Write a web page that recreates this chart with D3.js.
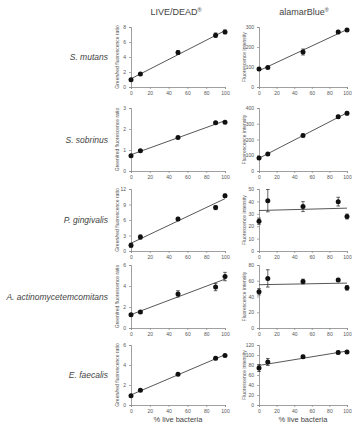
<!DOCTYPE html>
<html><head><meta charset="utf-8">
<script src="https://cdn.jsdelivr.net/npm/d3@7"></script>
<style>
html,body{margin:0;padding:0;background:#fff;}
svg{display:block;font-family:"Liberation Sans",Arial,sans-serif;}
</style></head>
<body>
<svg id="chart" width="352" height="426"></svg>
<script>
// ---- data ----
const xPercent = [0, 10, 50, 90, 100];
const xTicks = [0, 20, 40, 60, 80, 100];
const columnTitles = ["LIVE/DEAD", "alamarBlue"];
const species = ["S. mutans", "S. sobrinus", "P. gingivalis", "A. actinomycetemcomitans", "E. faecalis"];
const yTitles = ["Green/red fluorescence ratio", "Fluorescence intensity"];
const xTitle = "% live bacteria";

// LIVE/DEAD green/red ratio
const ldMutans = [0.97, 1.73, 4.6, 6.9, 7.35];
const ldMutansErr = [0.1, 0.12, 0.25, 0.3, 0.25];
const ldSobrinus = [0.73, 0.97, 1.6, 2.3, 2.32];
const ldSobrinusErr = [0.05, 0.05, 0.05, 0.06, 0.05];
const ldGingivalis = [1.1, 2.7, 6.2, 8.4, 10.7];
const ldGingivalisErr = [0.4, 0.4, 0.3, 0.4, 0.3];
const ldActino = [1.26, 1.52, 3.25, 3.9, 4.9];
const ldActinoErr = [0.1, 0.1, 0.3, 0.35, 0.4];
const ldFaecalis = [0.93, 1.47, 3.07, 4.67, 4.95];
const ldFaecalisErr = [0.1, 0.1, 0.1, 0.15, 0.1];

// alamarBlue fluorescence intensity
const abMutans = [90, 97, 175, 275, 285];
const abMutansErr = [5, 5, 15, 8, 6];
const abSobrinus = [82, 108, 226, 344, 366];
const abSobrinusErr = [8, 8, 8, 10, 10];
const abGingivalis = [24, 40.6, 35.8, 39.8, 27.8];
const abGingivalisErr = [2.5, 9, 4, 3.5, 2];
const abActino = [46, 63, 59, 61, 51];
const abActinoErr = [4, 11, 3, 2, 3];
const abFaecalis = [74, 86, 96.5, 105, 106];
const abFaecalisErr = [7, 7, 3, 3, 3];

const ldTicks = [[0,2,4,6,8],[0,1,2,3],[0,3,6,9,12],[0,2,4,6],[0,2,4,6]];
const abTicks = [[0,100,200,300],[0,100,200,300,400],[0,10,20,30,40,50],[0,20,40,60,80],[0,20,40,60,80,100,120]];

const ldSeries = [ldMutans, ldSobrinus, ldGingivalis, ldActino, ldFaecalis];
const ldErrors = [ldMutansErr, ldSobrinusErr, ldGingivalisErr, ldActinoErr, ldFaecalisErr];
const abSeries = [abMutans, abSobrinus, abGingivalis, abActino, abFaecalis];
const abErrors = [abMutansErr, abSobrinusErr, abGingivalisErr, abActinoErr, abFaecalisErr];

// ---- layout ----
const rows = [[27, 87], [108, 171], [189, 251], [265, 328], [345, 405]];
const cols = [[131, 225], [259, 347]];
const yTitleX = [119, 246];
const labelColor = "#555";

const svg = d3.select("#chart");

function regression(xs, ys) {
  const mx = d3.mean(xs), my = d3.mean(ys);
  let sxy = 0, sxx = 0;
  xs.forEach((x, i) => { sxy += (x - mx) * (ys[i] - my); sxx += (x - mx) * (x - mx); });
  const b = sxy / sxx;
  return { a: my - b * mx, b };
}

// column titles
columnTitles.forEach((t, c) => {
  const tt = svg.append("text")
    .attr("x", (cols[c][0] + cols[c][1]) / 2 + (c === 0 ? -2 : 1))
    .attr("y", 15)
    .attr("text-anchor", "middle")
    .attr("font-size", 9)
    .attr("fill", "#444");
  tt.append("tspan").text(t);
  tt.append("tspan").attr("font-size", 5.5).attr("dy", -3).text("\u00AE");
});

species.forEach((sp, r) => {
  const [top, bottom] = rows[r];
  svg.append("text")
    .attr("x", 108)
    .attr("y", (top + bottom) / 2 + 3)
    .attr("text-anchor", "end")
    .attr("font-size", 8.5)
    .attr("font-style", "italic")
    .attr("fill", "#444")
    .text(sp);

  [0, 1].forEach(c => {
    const values = c === 0 ? ldSeries[r] : abSeries[r];
    const errs = c === 0 ? ldErrors[r] : abErrors[r];
    const ticks = c === 0 ? ldTicks[r] : abTicks[r];
    const x = d3.scaleLinear().domain([0, 100]).range(cols[c]);
    const y = d3.scaleLinear().domain([0, d3.max(ticks)]).range([bottom, top]);
    const g = svg.append("g");

    // y axis
    const ya = g.append("g").attr("transform", `translate(${cols[c][0]},0)`)
      .call(d3.axisLeft(y).tickValues(ticks).tickFormat(d3.format("d")).tickSize(2).tickPadding(3));
    // x axis
    const xa = g.append("g").attr("transform", `translate(0,${bottom})`)
      .call(d3.axisBottom(x).tickValues(xTicks).tickFormat(d3.format("d")).tickSize(2).tickPadding(2));
    [ya, xa].forEach(a => {
      a.select(".domain").attr("stroke", "#888").attr("stroke-width", 0.8);
      a.selectAll(".tick line").attr("stroke", "#888").attr("stroke-width", 0.7);
      a.selectAll(".tick text").attr("font-size", 5).attr("fill", labelColor)
        .attr("font-family", "Liberation Sans, Arial, sans-serif");
    });

    // y title
    g.append("text")
      .attr("transform", `translate(${yTitleX[c]},${(top + bottom) / 2}) rotate(-90)`)
      .attr("text-anchor", "middle")
      .attr("font-size", 5)
      .attr("fill", labelColor)
      .text(yTitles[c]);

    // regression line
    const fit = regression(xPercent, values);
    g.append("line")
      .attr("x1", x(0)).attr("y1", y(fit.a))
      .attr("x2", x(100)).attr("y2", y(fit.a + fit.b * 100))
      .attr("stroke", "#444").attr("stroke-width", 0.9);

    // error bars
    const pts = xPercent.map((xv, i) => ({ x: xv, y: values[i], e: errs[i] }));
    const eb = g.selectAll(".eb").data(pts).enter().append("g");
    eb.append("line")
      .attr("x1", d => x(d.x)).attr("x2", d => x(d.x))
      .attr("y1", d => y(d.y - d.e)).attr("y2", d => y(d.y + d.e))
      .attr("stroke", "#222").attr("stroke-width", 0.7);
    eb.append("line")
      .attr("x1", d => x(d.x) - 1.8).attr("x2", d => x(d.x) + 1.8)
      .attr("y1", d => y(d.y + d.e)).attr("y2", d => y(d.y + d.e))
      .attr("stroke", "#222").attr("stroke-width", 0.7);
    eb.append("line")
      .attr("x1", d => x(d.x) - 1.8).attr("x2", d => x(d.x) + 1.8)
      .attr("y1", d => y(d.y - d.e)).attr("y2", d => y(d.y - d.e))
      .attr("stroke", "#222").attr("stroke-width", 0.7);

    // points
    g.selectAll(".pt").data(pts).enter().append("circle")
      .attr("cx", d => x(d.x)).attr("cy", d => y(d.y)).attr("r", 2.5)
      .attr("fill", "#111");

    if (r === species.length - 1) {
      g.append("text")
        .attr("x", (cols[c][0] + cols[c][1]) / 2)
        .attr("y", 422)
        .attr("text-anchor", "middle")
        .attr("font-size", 7.5)
        .attr("fill", "#444")
        .text(xTitle);
    }
  });
});
</script>
</body></html>
